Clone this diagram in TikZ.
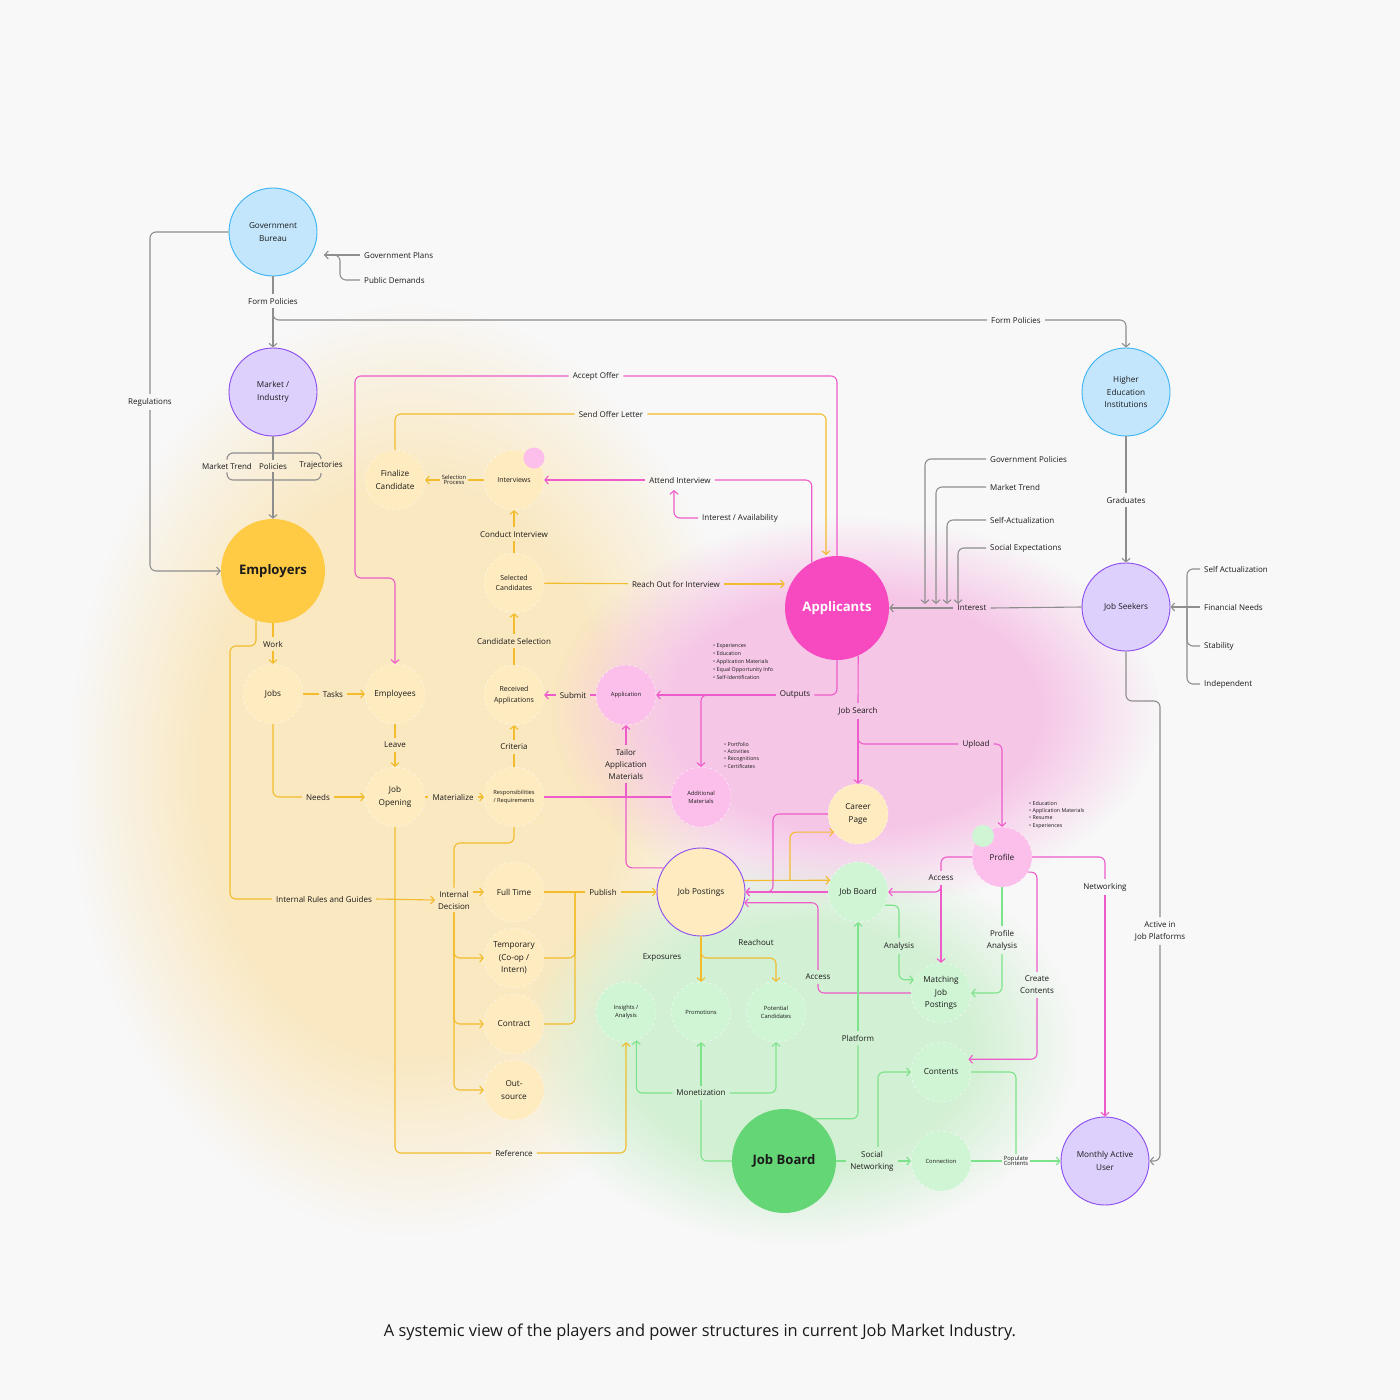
\documentclass[tikz,border=0pt]{standalone}
\usepackage{fontspec}
\setmainfont{Open Sans}
\usetikzlibrary{arrows.meta,fadings}

\definecolor{bgcol}{HTML}{F8F8F8}
\definecolor{txt}{HTML}{1A1A1A}
\definecolor{greyline}{HTML}{8E8E8E}
\definecolor{yline}{HTML}{F2BC2C}
\definecolor{pline}{HTML}{EE5BCB}
\definecolor{gline}{HTML}{7CE38A}
\definecolor{govfill}{HTML}{C3E6FC}
\definecolor{govline}{HTML}{3BB4F5}
\definecolor{lavfill}{HTML}{DDD0FC}
\definecolor{lavline}{HTML}{8A4CF0}
\definecolor{empfill}{HTML}{FFCB45}
\definecolor{appfill}{HTML}{F74AC0}
\definecolor{jbfill}{HTML}{65D676}
\definecolor{yfill}{HTML}{FEEBBF}
\definecolor{pfill}{HTML}{FCBFEC}
\definecolor{gfill}{HTML}{CFF5D4}
\definecolor{yglow}{HTML}{FAE8C0}
\definecolor{pglow}{HTML}{F6C6E7}
\definecolor{gglow}{HTML}{D2F0D3}

\pgfdeclareradialshading{glowmask}{\pgfpointorigin}{color(0bp)=(white); color(15bp)=(white); color(25bp)=(black); color(50bp)=(black)}
\pgfdeclarefading{glow}{\pgfuseshading{glowmask}}

\begin{document}
\begin{tikzpicture}[x=1pt, y=-1pt]
        \tikzstyle{circ} = [circle, inner sep=0pt, align=center, text=txt, font=\fontsize{8.2}{12.5}\selectfont]
        \tikzstyle{actor} = [circ, minimum size=88pt, line width=0.9pt]
        \tikzstyle{govt} = [actor, fill=govfill, draw=govline]
        \tikzstyle{people} = [actor, fill=lavfill, draw=lavline]
        \tikzstyle{hub} = [circ, minimum size=104pt, font=\fontsize{13.1}{16}\selectfont\bfseries]
        \tikzstyle{bub} = [circ, minimum size=60pt, draw=white, dashed, line width=0.3pt]
        \tikzstyle{ybub} = [bub, fill=yfill]
        \tikzstyle{pbub} = [bub, fill=pfill]
        \tikzstyle{gbub} = [bub, fill=gfill]
        \tikzstyle{tinytext} = [font=\fontsize{5.8}{8}\selectfont]
        \tikzstyle{lbl} = [align=center, text=txt, inner sep=4pt, font=\fontsize{8}{12}\selectfont]
        \tikzstyle{bullets} = [align=left, text=txt, inner sep=0pt, font=\fontsize{5.3}{8}\selectfont]
        \tikzstyle{link} = [line width=1.1pt, rounded corners=6pt]
        \tikzstyle{greylink} = [link, draw=greyline]
        \tikzstyle{yellowlink} = [link, draw=yline]
        \tikzstyle{pinklink} = [link, draw=pline]
        \tikzstyle{greenlink} = [link, draw=gline]
        \tikzstyle{flow} = [-{Straight Barb[length=3.5pt,width=8pt]}]

        % page and glows
        \fill[bgcol] (0,0) rectangle (1400,1400);
        \useasboundingbox (0,0) rectangle (1400,1400);
        \fill[yglow, path fading=glow] (410,770) ellipse [x radius=340pt, y radius=465pt];
        \fill[gglow, path fading=glow] (800,1045) ellipse [x radius=280pt, y radius=200pt];
        \fill[pglow, path fading=glow] (855,712) ellipse [x radius=305pt, y radius=195pt];

        % main actors
        \node (gov) [govt] at (273,232) {Government\\Bureau};
        \node (mkt) [people] at (273,392) {Market /\\Industry};
        \node (hei) [govt] at (1126,392) {Higher\\Education\\Institutions};
        \node (seek) [people] at (1126,607) {Job Seekers};
        \node (mau) [people] at (1105,1161) {Monthly Active\\User};
        \node (emp) [hub, fill=empfill] at (273,571) {Employers};
        \node (app) [hub, fill=appfill, text=white] at (837,608) {Applicants};
        \node (jb) [hub, fill=jbfill] at (784,1161) {Job Board};
        \node (post) [actor, fill=yfill, draw=lavline] at (701,892) {Job Postings};

        % employer side
        \node (final) [ybub] at (395,480) {Finalize\\Candidate};
        \node (intv) [ybub, font=\fontsize{7}{10}\selectfont] at (514,480) {Interviews};
        \node (selc) [ybub, font=\fontsize{7}{10.5}\selectfont] at (514,583) {Selected\\Candidates};
        \node (recv) [ybub, font=\fontsize{7}{10.5}\selectfont] at (514,695) {Received\\Applications};
        \node (jobs) [ybub] at (273,694) {Jobs};
        \node (empl) [ybub] at (395,694) {Employees};
        \node (jopen) [ybub] at (395,797) {Job\\Opening};
        \node (resp) [ybub, font=\fontsize{5.7}{8.5}\selectfont] at (514,797) {Responsibilities\\/ Requirements};
        \node (ft) [ybub] at (514,892) {Full Time};
        \node (temp) [ybub] at (514,958) {Temporary\\(Co-op /\\Intern)};
        \node (contract) [ybub] at (514,1024) {Contract};
        \node (outs) [ybub] at (514,1090) {Out-\\source};
        \node (career) [ybub] at (858,814) {Career\\Page};

        % applicant side
        \node (appl) [pbub, tinytext] at (626,695) {Application};
        \node (addl) [pbub, tinytext] at (701,797) {Additional\\Materials};
        \node (profile) [pbub] at (1002,857) {Profile};

        % job board side
        \node (jbs) [gbub] at (858,892) {Job Board};
        \node (match) [gbub] at (941,993) {Matching\\Job\\Postings};
        \node (insight) [gbub, tinytext] at (626,1012) {Insights /\\Analysis};
        \node (promo) [gbub, tinytext] at (701,1012) {Promotions};
        \node (pcand) [gbub, tinytext] at (776,1012) {Potential\\Candidates};
        \node (contents) [gbub] at (941,1072) {Contents};
        \node (conn) [gbub, tinytext] at (941,1161) {Connection};

        \node (pdot) [circle, fill=pfill, minimum size=21pt, inner sep=0pt] at (534,458) {};
        \node (gdot) [circle, fill=gfill, minimum size=22pt, inner sep=0pt] at (983,836) {};

        % grey links
        \node (regul) [lbl] at (150,402) {Regulations};
        \draw[greylink] (gov.west) -| (regul.north);
        \draw[greylink, flow] (regul.south) |- (emp.west);
        \node (gplan) [lbl, anchor=west] at (360,255) {Government Plans};
        \node (pdem) [lbl, anchor=west] at (360,280) {Public Demands};
        \coordinate (govin) at (324,255);
        \coordinate (gpj) at (340,255);
        \draw[greylink, flow] (gplan.west) -- (govin);
        \draw[greylink] (pdem.west) -| (gpj) -- (govin);
        \node (fp1) [lbl] at (273,301) {Form Policies};
        \draw[greylink] (gov.south) -- (fp1);
        \draw[greylink, flow] (fp1) -- (mkt.north);
        \node (fp2) [lbl] at (1016,320) {Form Policies};
        \draw[greylink] (fp1.south) |- (fp2.west);
        \draw[greylink, flow] (fp2.east) -| (hei.north);

        \node (mtrend) [lbl, inner sep=3pt] at (227,466) {Market Trend};
        \node (pol) [lbl, inner sep=3pt] at (273,466) {Policies};
        \node (traj) [lbl, inner sep=3pt] at (321,466) {Trajectories};
        \coordinate (mktop) at (273,453);
        \coordinate (mkbot) at (273,480);
        \draw[greylink] (mkt.south) -- (mktop) -- (pol.north);
        \draw[greylink] (mtrend.north) |- (mktop) -| (traj.north);
        \draw[greylink] (mtrend.south) |- (mkbot) -| (traj.south);
        \draw[greylink] (pol.south) -- (mkbot);
        \draw[greylink, flow] (mkbot) -- (emp.north);

        \node (grad) [lbl] at (1126,500) {Graduates};
        \draw[greylink] (hei.south) -- (grad);
        \draw[greylink, flow] (grad) -- (seek.north);

        \node (interest) [lbl] at (972,608) {Interest};
        \draw[greylink] (seek.west) -- (interest.east);
        \draw[greylink, flow] (interest.west) -- (app.east);
        \node (govpol) [lbl, anchor=west] at (986,459) {Government Policies};
        \node (mtrend2) [lbl, anchor=west] at (986,487) {Market Trend};
        \node (selfact) [lbl, anchor=west] at (986,520) {Self-Actualization};
        \node (socexp) [lbl, anchor=west] at (986,548) {Social Expectations};
        \coordinate (in1) at (925,604);
        \coordinate (in2) at (936,604);
        \coordinate (in3) at (947,604);
        \coordinate (in4) at (958,604);
        \draw[greylink, flow] (govpol.west) -| (in1);
        \draw[greylink, flow] (mtrend2.west) -| (in2);
        \draw[greylink, flow] (selfact.west) -| (in3);
        \draw[greylink, flow] (socexp.west) -| (in4);

        \node (sa) [lbl, anchor=west] at (1200,569) {Self Actualization};
        \node (fn) [lbl, anchor=west] at (1200,607) {Financial Needs};
        \node (stab) [lbl, anchor=west] at (1200,646) {Stability};
        \node (indep) [lbl, anchor=west] at (1200,684) {Independent};
        \coordinate (mb) at (1187,607);
        \draw[greylink] (sa.west) -| (mb) |- (indep.west);
        \draw[greylink] (stab.west) -| (mb);
        \draw[greylink, flow] (fn.west) -- (seek.east);

        \node (active) [lbl] at (1160,931) {Active in\\Job Platforms};
        \coordinate (aj) at (1160,701);
        \draw[greylink] (seek.south) |- (aj) -- (active.north);
        \draw[greylink, flow] (active.south) |- (mau.east);

        % yellow links
        \node (work) [lbl] at (273,644) {Work};
        \draw[yellowlink] (emp.south) -- (work);
        \draw[yellowlink, flow] (work) -- (jobs.north);
        \node (tasks) [lbl] at (333,694) {Tasks};
        \draw[yellowlink] (jobs) -- (tasks);
        \draw[yellowlink, flow] (tasks) -- (empl);
        \node (leave) [lbl] at (395,745) {Leave};
        \draw[yellowlink] (empl) -- (leave);
        \draw[yellowlink, flow] (leave) -- (jopen);
        \node (needs) [lbl] at (318,797) {Needs};
        \draw[yellowlink] (jobs.south) |- (needs.west);
        \draw[yellowlink, flow] (needs) -- (jopen);
        \node (mat) [lbl] at (453,797) {Materialize};
        \draw[yellowlink] (jopen) -- (mat);
        \draw[yellowlink, flow] (mat) -- (resp);
        \node (crit) [lbl] at (514,747) {Criteria};
        \draw[yellowlink] (resp) -- (crit);
        \draw[yellowlink, flow] (crit) -- (recv);
        \node (csel) [lbl] at (514,641) {Candidate Selection};
        \draw[yellowlink] (recv) -- (csel);
        \draw[yellowlink, flow] (csel) -- (selc);
        \node (conduct) [lbl] at (514,534) {Conduct Interview};
        \draw[yellowlink] (selc) -- (conduct);
        \draw[yellowlink, flow] (conduct) -- (intv);
        \node (selproc) [lbl, tinytext, inner sep=2pt] at (454,480) {Selection\\[-3pt]Process};
        \draw[yellowlink] (intv) -- (selproc);
        \draw[yellowlink, flow] (selproc) -- (final);
        \node (reach) [lbl] at (676,584) {Reach Out for Interview};
        \draw[yellowlink] (selc) -- (reach);
        \draw[yellowlink, flow] (reach.east) -- (app.west |- reach);
        \node (offer) [lbl] at (611,414) {Send Offer Letter};
        \coordinate (appoff) at (826,555);
        \draw[yellowlink] (final.north) |- (offer.west);
        \draw[yellowlink, flow] (offer.east) -| (appoff);

        \node (intrules) [lbl] at (324,899) {Internal Rules and Guides};
        \node (intdec) [lbl, inner sep=3pt] at (454,900) {Internal\\Decision};
        \draw[yellowlink] (emp.-109) |- (230,646) |- (intrules.west);
        \draw[yellowlink, flow] (intrules.east) -- (intdec.west);
        \draw[yellowlink] (resp.south) |- (454,843) -- (intdec.north);
        \draw[yellowlink, flow] (intdec.east |- ft.west) -- (ft.west);
        \draw[yellowlink, flow] (intdec.south) |- (temp.west);
        \draw[yellowlink, flow] (intdec.south) |- (contract.west);
        \draw[yellowlink, flow] (intdec.south) |- (outs.west);
        \node (publish) [lbl] at (603,892) {Publish};
        \coordinate (pubj) at (575,892);
        \draw[yellowlink] (ft) -- (publish);
        \draw[yellowlink, flow] (publish) -- (post.west);
        \draw[yellowlink] (temp.east) -| (pubj);
        \draw[yellowlink] (contract.east) -| (pubj);

        \node (refer) [lbl] at (514,1153) {Reference};
        \draw[yellowlink] (jopen.south) |- (refer.west);
        \draw[yellowlink, flow] (refer.east) -| (insight.south);

        \node (expos) [lbl] at (662,958) {Exposures};
        \node (reachout) [lbl] at (756,942) {Reachout};
        \draw[yellowlink, flow] (post.south) -- (promo.north);
        \draw[yellowlink, flow] (post.south) -- (701,958) -| (pcand.north);
        \coordinate (cpj) at (790,880);
        \draw[yellowlink, flow] (post.15) -- (jbs.157);
        \draw[yellowlink, flow] (cpj) |- (career.-143);

        % pink links
        \node (accept) [lbl] at (596,376) {Accept Offer};
        \draw[pinklink] (app.north) |- (accept.east);
        \draw[pinklink, flow] (accept.west) -| (355,578) -| (empl.north);
        \node (attend) [lbl] at (680,480) {Attend Interview};
        \draw[pinklink] (app.119) |- (attend.east);
        \draw[pinklink, flow] (attend.west) -- (intv.east);
        \node (avail) [lbl, anchor=west] at (698,518) {Interest / Availability};
        \coordinate (availtip) at (674,490);
        \draw[pinklink, flow] (avail.west) -| (availtip);

        \node (outputs) [lbl] at (795,695) {Outputs};
        \draw[pinklink] (app.south) |- (outputs.east);
        \draw[pinklink, flow] (outputs.west) -- (appl.east);
        \draw[pinklink, flow] (outputs.west) -| (addl.north);
        \node (submit) [lbl] at (573,695) {Submit};
        \draw[pinklink] (appl) -- (submit);
        \draw[pinklink, flow] (submit) -- (recv);
        \node (tailor) [lbl] at (626,764) {Tailor\\Application\\Materials};
        \coordinate (tj) at (626,797);
        \draw[pinklink, flow] (tailor.north) -- (appl.south);
        \draw[pinklink] (resp.east) -- (tj) -- (addl.west);
        \draw[pinklink] (tj) -- (tailor.south);
        \draw[pinklink] (post.147) -| (tj);

        \node (jsearch) [lbl] at (858,711) {Job Search};
        \draw[pinklink] (app.-66) -- (jsearch.north);
        \draw[pinklink, flow] (jsearch.south) -- (career.north);
        \node (upload) [lbl] at (976,744) {Upload};
        \draw[pinklink] (jsearch.south) |- (upload.west);
        \draw[pinklink, flow] (upload.east) -| (profile.north);

        \node (access2) [lbl] at (941,878) {Access};
        \draw[pinklink] (profile.west) -| (access2.north);
        \draw[pinklink, flow] (access2.south) |- (jbs.east);
        \draw[pinklink, flow] (access2.south) -- (match.north);
        \node (netw) [lbl] at (1105,887) {Networking};
        \draw[pinklink] (profile.east) -| (netw.north);
        \draw[pinklink, flow] (netw.south) -- (mau.north);
        \node (create) [lbl] at (1037,985) {Create\\Contents};
        \draw[pinklink] (profile.-30) -| (create.north);
        \draw[pinklink, flow] (create.south) |- (contents.25);

        \node (access1) [lbl] at (818,977) {Access};
        \draw[pinklink] (match.west) -| (access1.south);
        \draw[pinklink, flow] (access1.north) |- (post.-14);
        \draw[pinklink, flow] (career.west) -| (773,892) -- (post.east);
        \draw[pinklink, flow] (jbs.west) -- (post.east);

        % green links
        \node (monet) [lbl] at (701,1093) {Monetization};
        \draw[greenlink] (jb.west) -| (monet.south);
        \draw[greenlink, flow] (monet.north) -- (promo.south);
        \draw[greenlink, flow] (monet.west) -| (insight.-70);
        \draw[greenlink, flow] (monet.east) -| (pcand.south);
        \node (platf) [lbl] at (858,1038) {Platform};
        \draw[greenlink] (jb.54) -| (platf.south);
        \draw[greenlink, flow] (platf.north) -- (jbs.south);
        \node (analysis) [lbl] at (899,946) {Analysis};
        \draw[greenlink] (jbs.-26) -| (analysis.north);
        \draw[greenlink, flow] (analysis.south) |- (match.154);
        \node (panal) [lbl] at (1002,940) {Profile\\Analysis};
        \draw[greenlink] (profile.south) -- (panal.north);
        \draw[greenlink, flow] (panal.south) |- (match.east);
        \node (socnet) [lbl] at (872,1161) {Social\\Networking};
        \draw[greenlink] (jb.east) -- (socnet.west);
        \draw[greenlink, flow] (socnet.east) -- (conn.west);
        \draw[greenlink, flow] ([xshift=6pt]socnet.north) |- (contents.west);
        \node (popul) [lbl, tinytext, inner sep=2pt] at (1016,1161) {Populate\\[-3pt]Contents};
        \draw[greenlink] (conn.east) -- (popul.west);
        \draw[greenlink, flow] (popul.east) -- (mau.west);
        \draw[greenlink] (contents.east) -| (popul.north);

        % bullet notes
        \node (appinfo) [bullets, anchor=north west] at (713,643) {• Experiences\\• Education\\• Application Materials\\• Equal Opportunity Info\\• Self-Identification};
        \node (addinfo) [bullets, anchor=north west] at (724,742) {• Portfolio\\[-0.7pt]• Activities\\[-0.7pt]• Recognitions\\[-0.7pt]• Certificates};
        \node (profinfo) [bullets, anchor=north west] at (1029,801) {• Education\\[-0.7pt]• Application Materials\\[-0.7pt]• Resume\\[-0.7pt]• Experiences};

        \node (caption) [text=txt, font=\fontsize{16.4}{19}\selectfont] at (700,1332) {A systemic view of the players and power structures in current Job Market Industry.};
\end{tikzpicture}
\end{document}
